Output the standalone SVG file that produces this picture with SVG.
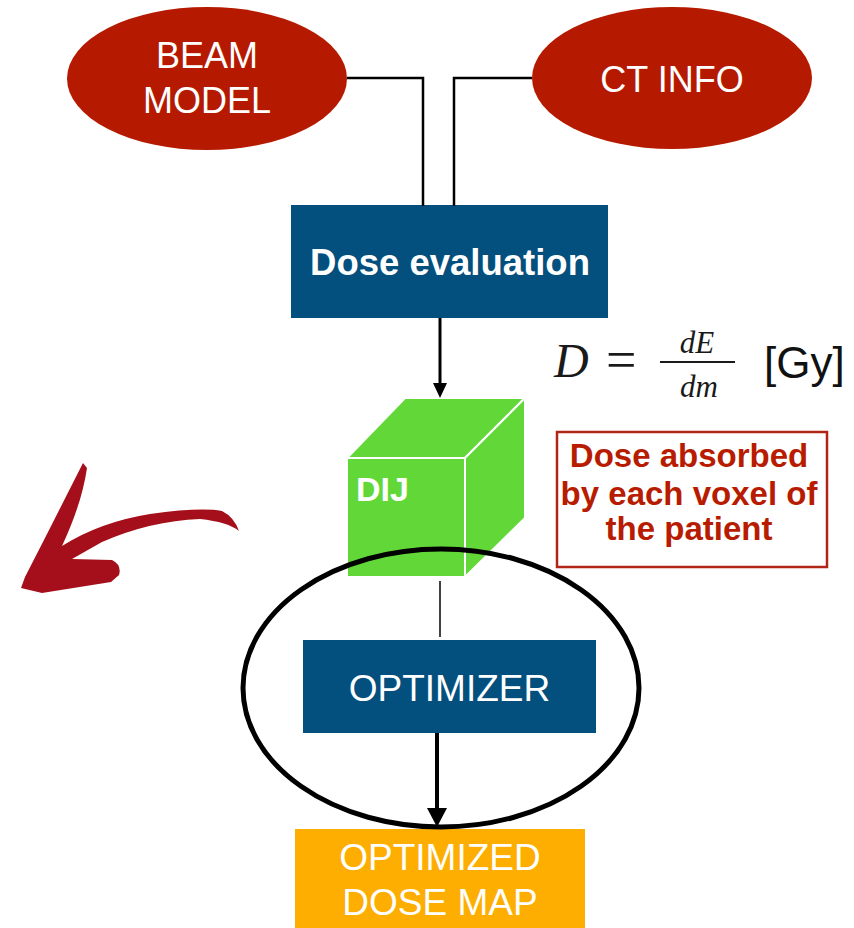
<svg xmlns="http://www.w3.org/2000/svg" width="854" height="928" viewBox="0 0 854 928">
  <style>
    .lbl { font-family: "Liberation Sans", Arial, sans-serif; fill: #ffffff; text-anchor: middle; }
    .bold { font-weight: bold; }
    .wire { fill: none; stroke: #000000; stroke-width: 2.5; }
    .src { fill: #b51a00; }
    .blue { fill: #034f7e; }
    .cube { fill: #62d838; stroke: #ffffff; stroke-width: 2; stroke-linejoin: miter; }
    .note { font-family: "Liberation Sans", Arial, sans-serif; font-weight: bold; font-size: 33px; fill: #b81c00; text-anchor: middle; }
    .math { font-family: "Liberation Serif", "Times New Roman", serif; fill: #1a1a1a; }
  </style>

  <rect width="854" height="928" fill="#ffffff"/>

  <!-- inputs -->
  <g id="beam-model">
    <ellipse class="src" cx="207" cy="78.5" rx="140" ry="71.5"/>
    <text class="lbl" x="207" y="68" font-size="36">BEAM</text>
    <text class="lbl" x="207" y="113" font-size="36">MODEL</text>
  </g>
  <g id="ct-info">
    <ellipse class="src" cx="672" cy="78" rx="140" ry="71"/>
    <text class="lbl" x="672" y="92" font-size="36">CT INFO</text>
  </g>

  <g id="dose-evaluation">
    <rect class="blue" x="291" y="205" width="317" height="113"/>
    <text class="lbl bold" x="450" y="275" font-size="36.5">Dose evaluation</text>
  </g>

  <!-- dose matrix cube -->
  <g id="dij">
    <polygon class="cube" points="347,458 405,398 525,398 465,458"/>
    <polygon class="cube" points="465,458 525,398 525,518 465,577"/>
    <rect class="cube" x="347" y="458" width="118" height="119"/>
    <text class="lbl bold" x="356" y="501" font-size="34" style="text-anchor:start">DIJ</text>
  </g>

  <g id="optimizer">
    <rect class="blue" x="303" y="640" width="293" height="93"/>
    <text class="lbl" x="449.5" y="701" font-size="37">OPTIMIZER</text>
  </g>

  <g id="optimized-dose-map">
    <rect x="295" y="829" width="290" height="110" fill="#fdae00"/>
    <text class="lbl" x="440" y="870" font-size="37">OPTIMIZED</text>
    <text class="lbl" x="440" y="915" font-size="37">DOSE MAP</text>
  </g>

  <!-- formula -->
  <g id="formula">
    <text class="math" x="554" y="377" font-size="48" font-style="italic">D</text>
    <text class="math" x="606" y="378" font-size="54">=</text>
    <line x1="660" y1="362" x2="735" y2="362" stroke="#1a1a1a" stroke-width="1.8"/>
    <text class="math" x="697" y="353" font-size="31" font-style="italic" text-anchor="middle">dE</text>
    <text class="math" x="699" y="397" font-size="31" font-style="italic" text-anchor="middle">dm</text>
    <text x="764" y="378" font-size="44" font-family="Liberation Sans, Arial, sans-serif" fill="#111111">[Gy]</text>
  </g>

  <g id="dose-note">
    <rect x="557" y="432" width="270" height="135" fill="#ffffff" stroke="#b02516" stroke-width="2.5"/>
    <text class="note" x="689" y="467">Dose absorbed</text>
    <text class="note" x="689" y="505">by each voxel of</text>
    <text class="note" x="689" y="540">the patient</text>
  </g>

  <!-- hand-drawn pointer -->
  <g id="brush-arrow">
    <path fill="#a50f1b" d="M 83,463 L 87,468 C 83,495 74,520 62,546 Q 100,522 150,514 Q 200,507 222,511 Q 234,517 239,531 Q 228,522 200,519 Q 150,521 102,542 L 72,559 L 112,560 Q 122,565 119,575 L 111,582 L 42,593 L 21,588 L 25,577 L 46,536 Z"/>
  </g>

  <!-- connectors -->
  <g id="connectors">
    <polyline class="wire" points="347,78 423,78 423,206"/>
    <polyline class="wire" points="532,78 454,78 454,206"/>
    <line x1="440" y1="318" x2="440" y2="386" stroke="#000" stroke-width="3"/>
    <polygon points="433,383 447,383 440,398" fill="#000"/>
    <line x1="440" y1="581" x2="440" y2="637" stroke="#000" stroke-width="1.5"/>
    <line x1="437" y1="733" x2="437" y2="810" stroke="#000" stroke-width="4"/>
    <polygon points="427,808 447,808 437,827" fill="#000"/>
  </g>

  <g id="optimization-loop">
    <ellipse cx="441" cy="688" rx="198" ry="139" fill="none" stroke="#000" stroke-width="5"/>
  </g>
</svg>
